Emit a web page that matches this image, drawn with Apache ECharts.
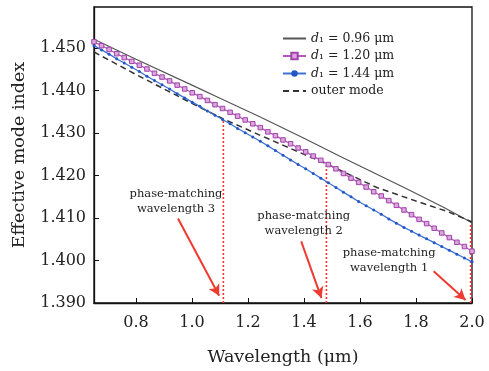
<!DOCTYPE html>
<html>
<head>
<meta charset="utf-8">
<script src="https://cdn.jsdelivr.net/npm/echarts@6/dist/echarts.min.js"></script>
<style>html,body{margin:0;padding:0;background:#fff}#c{width:489px;height:371px}</style>
</head>
<body>
<div id="c"></div>
<script>
// Wavelength samples (µm) for marked curves
var wl = [0.650,0.677,0.704,0.731,0.758,0.785,0.812,0.839,0.866,0.893,
          0.920,0.947,0.974,1.001,1.028,1.055,1.082,1.109,1.136,1.163,
          1.190,1.217,1.244,1.271,1.298,1.325,1.352,1.379,1.406,1.433,
          1.460,1.487,1.514,1.541,1.568,1.595,1.622,1.649,1.676,1.703,
          1.730,1.757,1.784,1.811,1.838,1.865,1.892,1.919,1.946,1.973,2.000];
// d1 = 1.20 µm
var n120 = [1.4515,1.4506,1.4497,1.4487,1.4478,1.4469,1.4460,1.4451,1.4441,1.4432,
            1.4423,1.4413,1.4404,1.4395,1.4386,1.4377,1.4367,1.4358,1.4349,1.4340,
            1.4331,1.4322,1.4313,1.4303,1.4294,1.4284,1.4275,1.4265,1.4256,1.4246,
            1.4236,1.4226,1.4216,1.4205,1.4194,1.4184,1.4173,1.4162,1.4152,1.4141,
            1.4130,1.4119,1.4108,1.4097,1.4087,1.4076,1.4065,1.4054,1.4043,1.4033,1.4022];
// d1 = 1.44 µm
var n144 = [1.4506,1.4496,1.4486,1.4475,1.4465,1.4455,1.4445,1.4434,1.4424,1.4414,
            1.4404,1.4393,1.4383,1.4373,1.4363,1.4352,1.4342,1.4332,1.4322,1.4311,
            1.4301,1.4291,1.4281,1.4270,1.4259,1.4248,1.4237,1.4226,1.4216,1.4205,
            1.4194,1.4183,1.4172,1.4161,1.4150,1.4139,1.4129,1.4119,1.4109,1.4098,
            1.4088,1.4078,1.4069,1.4060,1.4051,1.4042,1.4033,1.4024,1.4015,1.4006,1.3997];
// d1 = 0.96 µm
var wl096 = [0.65,0.80,1.00,1.10,1.24,1.40,1.53,1.66,1.77,1.90,2.00];
var n096  = [1.4521,1.4474,1.4413,1.4382,1.4339,1.4288,1.4245,1.4203,1.4168,1.4125,1.4089];
// outer mode
var wlOut = [0.65,0.80,1.00,1.11,1.24,1.40,1.48,1.66,1.80,1.91,2.00];
var nOut  = [1.4491,1.4438,1.4370,1.4334,1.4296,1.4250,1.4228,1.4172,1.4140,1.4116,1.4091];
// phase-matching points
var pmWl = [1.112, 1.480, 1.995];
var pmN  = [1.4334, 1.4228, 1.4090];
var pmText = ['phase-matching\nwavelength 3','phase-matching\nwavelength 2','phase-matching\nwavelength 1'];
var pmTextPos = [[0.943,1.4139],[1.399,1.4086],[1.704,1.4000]];
var arrowFrom = [[0.950,1.4099],[1.390,1.4045],[1.863,1.3975]];
var arrowTo   = [[1.097,1.3917],[1.462,1.3912],[1.977,1.3907]];
var xTicks = [0.8,1.0,1.2,1.4,1.6,1.8,2.0];
var yTicks = [1.39,1.40,1.41,1.42,1.43,1.44,1.45];
var legendText = {'s096':'0.96','s120':'1.20','s144':'1.44'};

function pairs(xs, ys){ return xs.map(function(x,i){return [x, ys[i]];}); }

var serif = 'DejaVu Serif';
var series = [
  {name:'s096', type:'line', data:pairs(wl096,n096), symbol:'none',
   lineStyle:{color:'#555555', width:1.2}, itemStyle:{color:'#555555'}, z:3},
  {name:'s120', type:'line', data:pairs(wl,n120), symbol:'rect', symbolSize:4.5, showAllSymbol:true,
   lineStyle:{color:'#b556bd', width:1.3}, itemStyle:{color:'#dba6de', borderColor:'#a243ab', borderWidth:1}, z:4},
  {name:'s144', type:'line', data:pairs(wl,n144), symbol:'circle', symbolSize:3, showAllSymbol:true,
   lineStyle:{color:'#3d72d6', width:1.3}, itemStyle:{color:'#2455c4'}, z:4},
  {name:'outer', type:'line', data:pairs(wlOut,nOut), symbol:'none',
   lineStyle:{color:'#333333', width:1.5, type:[6,4]}, itemStyle:{color:'#333333'}, z:3}
];
pmWl.forEach(function(w,i){
  series.push({type:'line', data:[[w,1.39],[w,pmN[i]]], symbol:'none', silent:true,
    lineStyle:{color:'#ff3333', width:1.6, type:[2,2]}, z:2});
});
series.push({type:'scatter', data:[], silent:true,
  markLine:{silent:true, symbol:['none','arrow'], symbolSize:[9,11],
    lineStyle:{color:'#f03a30', width:2, type:'solid'}, label:{show:false},
    data: arrowFrom.map(function(f,i){ return [{coord:f},{coord:arrowTo[i]}]; })},
  markPoint:{silent:true, symbol:'circle', symbolSize:0,
    label:{show:true, position:'inside', fontFamily:serif, fontSize:11.5, color:'#222', lineHeight:15, align:'center',
      formatter:function(p){return p.name;}},
    data: pmTextPos.map(function(c,i){ return {name:pmText[i], coord:c}; })}
});

var chart = echarts.init(document.getElementById('c'));
chart.setOption({
  animation:false,
  backgroundColor:'#fff',
  grid:{left:94, right:17, top:7, bottom:63, show:true, borderColor:'#111', borderWidth:1.3, backgroundColor:'transparent'},
  legend:{orient:'vertical', left:277, top:27, itemWidth:23, itemHeight:8, itemGap:4.5,
    data:[{name:'s096', itemStyle:{opacity:0}},
          {name:'s120'},
          {name:'s144'},
          {name:'outer', itemStyle:{opacity:0}}],
    textStyle:{fontFamily:serif, fontSize:12.5, color:'#222',
      rich:{i:{fontFamily:serif, fontStyle:'italic', fontSize:12.5, color:'#222'},
            n:{fontFamily:serif, fontSize:12.5, color:'#222'}}},
    formatter:function(n){
      if(n==='outer') return 'outer mode';
      return '{i|d}{n|\u2081 = ' + legendText[n] + ' \u03bcm}';
    }},
  xAxis:{type:'value', min:0.65, max:2.0,
    name:'Wavelength (\u03bcm)', nameLocation:'middle', nameGap:45,
    nameTextStyle:{fontFamily:serif, fontSize:17.5, color:'#222'},
    axisLine:{lineStyle:{color:'#111', width:1.3}},
    axisTick:{inside:true, length:5, customValues:xTicks, lineStyle:{color:'#111'}},
    axisLabel:{customValues:xTicks, fontFamily:serif, fontSize:16, color:'#222', margin:12,
      formatter:function(v){return v.toFixed(1);}},
    splitLine:{show:false}},
  yAxis:{type:'value', min:1.39, max:1.4597,
    name:'Effective mode index', nameLocation:'middle', nameGap:66,
    nameTextStyle:{fontFamily:serif, fontSize:17.5, color:'#222'},
    axisLine:{lineStyle:{color:'#111', width:1.3}},
    axisTick:{inside:true, length:5, customValues:yTicks, lineStyle:{color:'#111'}},
    axisLabel:{customValues:yTicks, fontFamily:serif, fontSize:16, color:'#222', margin:8,
      formatter:function(v){return v.toFixed(3);}},
    splitLine:{show:false}},
  series:series
});
</script>
</body>
</html>
